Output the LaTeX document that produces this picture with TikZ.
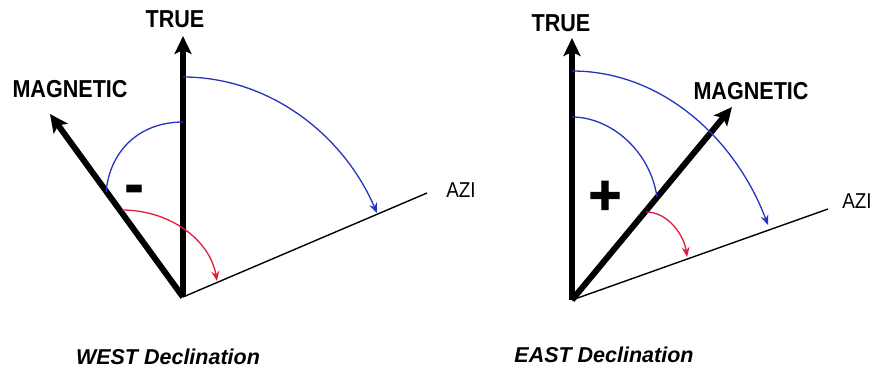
\documentclass[tikz,border=0pt]{standalone}
\usepackage{fontspec}
\setmainfont{Liberation Sans}
\newfontfamily\lblfont[FakeStretch=0.88]{Liberation Sans}
\newfontfamily\signfont[FakeBold=2]{Liberation Sans}
\usetikzlibrary{arrows.meta}
\definecolor{arcblue}{RGB}{36,52,190}
\definecolor{arcred}{RGB}{222,28,60}
\tikzset{
  bigarrow/.style={line width=6pt,-{Stealth[length=18pt,width=17pt,inset=4pt]}},
  azline/.style={line width=1.4pt},
  bluearc/.style={arcblue,line width=1.3pt},
  bluearcarrow/.style={bluearc,-{Stealth[length=10pt,width=8pt,inset=3.5pt]}},
  redarc/.style={arcred,line width=1.3pt,-{Stealth[length=10pt,width=8pt,inset=3.5pt]}},
  dirlabel/.style={font=\lblfont\bfseries\fontsize{24.5}{24.5}\selectfont,inner sep=0pt},
  azilabel/.style={font=\lblfont\fontsize{21.5}{21.5}\selectfont,inner sep=0pt},
  signlabel/.style={font=\signfont\bfseries\fontsize{56}{56}\selectfont,inner sep=0pt,anchor=base},
  titlelabel/.style={font=\bfseries\itshape\fontsize{21.5}{21.5}\selectfont,inner sep=0pt}
}
\begin{document}
\begin{tikzpicture}[x=1pt,y=-1pt]
\path[use as bounding box] (0,0) rectangle (883,381);
% ---------- WEST ----------
\coordinate (O1) at (183,297);
\coordinate (T1) at (183,36);
\coordinate (M1) at (50,114);
\coordinate (A1) at (427,193);
\draw[azline] (O1) -- (A1);
\draw[bigarrow] (O1) -- (T1);
\draw[bigarrow] (O1) -- (M1);
\coordinate (b1s) at (183,77);
\coordinate (b1e) at (377,213);
\draw[bluearcarrow] (b1s) .. controls (269,77) and (343,134) .. (b1e);
\coordinate (s1s) at (183,122);
\coordinate (s1e) at (106,192);
\draw[bluearc] (s1s) .. controls (140,122) and (110,150) .. (s1e);
\coordinate (r1s) at (122,210);
\coordinate (r1e) at (217,281);
\draw[redarc] (r1s) .. controls (170,210) and (210,240) .. (r1e);
\node[dirlabel] (true1) at (175,19) {TRUE};
\node[dirlabel] (mag1) at (70,89) {MAGNETIC};
\node[azilabel] (azi1) at (461,190) {AZI};
\node[signlabel] (minus) at (134,203) {-};
\node[titlelabel] (west) at (168,357) {WEST Declination};
% ---------- EAST ----------
\coordinate (O2) at (572,300);
\coordinate (T2) at (572,38);
\coordinate (M2) at (732,107);
\coordinate (A2) at (828,209);
\draw[azline] (O2) -- (A2);
\draw[bigarrow] (O2) -- (T2);
\draw[bigarrow] (O2) -- (M2);
\coordinate (b2s) at (572,71);
\coordinate (b2e) at (768,225);
\draw[bluearcarrow] (b2s) .. controls (663,71) and (736,140) .. (b2e);
\coordinate (s2s) at (572,117);
\coordinate (s2e) at (657,197);
\draw[bluearc] (s2s) .. controls (610,117) and (650,150) .. (s2e);
\coordinate (r2s) at (646,212);
\coordinate (r2e) at (687,257);
\draw[redarc] (r2s) .. controls (668,212) and (684,235) .. (r2e);
\node[dirlabel] (true2) at (561,23) {TRUE};
\node[dirlabel] (mag2) at (751,91) {MAGNETIC};
\node[azilabel] (azi2) at (857,201) {AZI};
\node[signlabel] (plus) at (605,214) {+};
\node[titlelabel] (east) at (604,355) {EAST Declination};
\end{tikzpicture}
\end{document}
